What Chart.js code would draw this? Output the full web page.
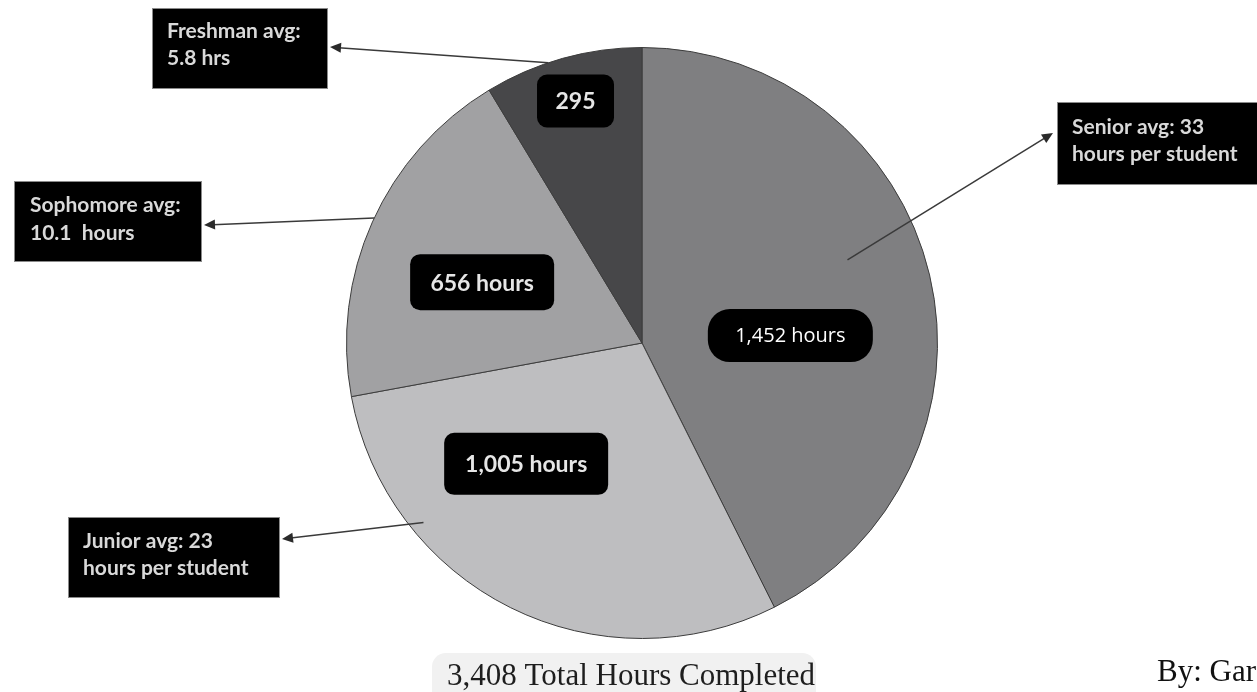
<!DOCTYPE html>
<html>
<head>
<meta charset="utf-8">
<script src="https://cdn.jsdelivr.net/npm/chart.js@4.4.1/dist/chart.umd.min.js"></script>
<style>
  html, body { margin: 0; padding: 0; background: #fff; overflow: hidden; }
  #wrap { width: 1257px; height: 692px; }
</style>
</head>
<body>
<div id="wrap"><canvas id="chart" width="1257" height="692"></canvas></div>
<script>
const categories = ["Senior", "Junior", "Sophomore", "Freshman"]
const hours = [1452, 1005, 656, 295]
const sliceLabels = ["1,452 hours", "1,005 hours", "656 hours", "295"]
const calloutLines = [
  ["Senior avg: 33", "hours per student"],
  ["Junior avg: 23", "hours per student"],
  ["Sophomore avg:", "10.1  hours"],
  ["Freshman avg:", "5.8 hrs"]
]
const totalText = "3,408 Total Hours Completed"
const bylineText = "By: Gar"

const sliceColors = ["#7f7f81", "#bebec0", "#a1a1a3", "#474749"]

// label boxes inside the slices, offsets in pie radius units
const innerLayout = [
  { dx: 0.502, dy: -0.025, w: 165, h: 53, r: 22, font: "400 20px 'Open Sans'" },
  { dx: -0.392, dy: 0.409, w: 164, h: 62, r: 10, font: "bold 23px Lato" },
  { dx: -0.541, dy: -0.206, w: 144, h: 56, r: 10, font: "bold 23px Lato" },
  { dx: -0.225, dy: -0.819, w: 77, h: 53, r: 10, font: "bold 23px Lato" }
]

// callout boxes and arrows (angle in degrees clockwise from top)
const calloutLayout = [
  { box: [1057, 102, 210, 83], tx: 1072, base: [134, 161], ang: 68, rf: 0.75, head: [1053, 133] },
  { box: [68, 517, 212, 81], tx: 83, base: [548, 575], ang: 230.6, rf: 0.957, head: [282, 539] },
  { box: [14, 181, 188, 81], tx: 30, base: [212, 240], ang: 295, rf: 1.0, head: [204, 225] },
  { box: [152, 8, 176, 81], tx: 167, base: [38, 65], ang: 341.5, rf: 1.0, head: [330, 47] }
]

function roundRect(ctx, x, y, w, h, r) {
  ctx.beginPath()
  ctx.moveTo(x + r, y)
  ctx.arcTo(x + w, y, x + w, y + h, r)
  ctx.arcTo(x + w, y + h, x, y + h, r)
  ctx.arcTo(x, y + h, x, y, r)
  ctx.arcTo(x, y, x + w, y, r)
  ctx.closePath()
}

function arrow(ctx, x1, y1, x2, y2) {
  ctx.save()
  ctx.strokeStyle = "#3a3a3a"
  ctx.fillStyle = "#2a2a2a"
  ctx.lineWidth = 1.5
  const a = Math.atan2(y2 - y1, x2 - x1)
  const len = 11
  ctx.beginPath()
  ctx.moveTo(x1, y1)
  ctx.lineTo(x2 - Math.cos(a) * len * 0.8, y2 - Math.sin(a) * len * 0.8)
  ctx.stroke()
  ctx.beginPath()
  ctx.moveTo(x2, y2)
  ctx.lineTo(x2 - Math.cos(a) * len + Math.sin(a) * 5, y2 - Math.sin(a) * len - Math.cos(a) * 5)
  ctx.lineTo(x2 - Math.cos(a) * len - Math.sin(a) * 5, y2 - Math.sin(a) * len + Math.cos(a) * 5)
  ctx.closePath()
  ctx.fill()
  ctx.restore()
}

const annotations = {
  id: "annotations",
  afterDatasetsDraw(chart) {
    const ctx = chart.ctx
    const arc = chart.getDatasetMeta(0).data[0]
    const cx = arc.x, cy = arc.y, R = arc.outerRadius

    // value labels inside slices
    innerLayout.forEach((l, i) => {
      const x = cx + l.dx * R, y = cy + l.dy * R
      ctx.save()
      ctx.fillStyle = "#000"
      roundRect(ctx, x - l.w / 2, y - l.h / 2, l.w, l.h, l.r)
      ctx.fill()
      ctx.fillStyle = i === 0 ? "#ffffff" : "#e6e6e6"
      ctx.font = l.font
      ctx.textAlign = "center"
      ctx.textBaseline = "middle"
      ctx.fillText(sliceLabels[i], x, y + 1)
      ctx.restore()
    })

    // callouts
    calloutLayout.forEach((c, i) => {
      const t = c.ang * Math.PI / 180
      const x1 = cx + Math.sin(t) * R * c.rf
      const y1 = cy - Math.cos(t) * R * c.rf
      arrow(ctx, x1, y1, c.head[0], c.head[1])
      const [bx, by, bw, bh] = c.box
      ctx.save()
      ctx.fillStyle = "#000"
      ctx.fillRect(bx, by, bw, bh)
      ctx.strokeStyle = "#8a8a8a"
      ctx.lineWidth = 1
      ctx.strokeRect(bx + 0.5, by + 0.5, bw - 1, bh - 1)
      ctx.fillStyle = "#d9d9d9"
      ctx.font = "bold 21px Lato"
      ctx.textBaseline = "alphabetic"
      calloutLines[i].forEach((line, k) => ctx.fillText(line, c.tx, c.base[k]))
      ctx.restore()
    })

    // footer
    ctx.save()
    ctx.fillStyle = "#f1f1f1"
    roundRect(ctx, 432, 653, 384, 60, 14)
    ctx.fill()
    ctx.fillStyle = "#1e1e1e"
    ctx.font = "31px 'Liberation Serif'"
    ctx.textBaseline = "alphabetic"
    ctx.fillText(totalText, 447, 685)
    ctx.fillStyle = "#111"
    ctx.fillText(bylineText, 1157, 681)
    ctx.restore()
  }
}

new Chart(document.getElementById("chart"), {
  type: "pie",
  data: {
    labels: categories,
    datasets: [{
      data: hours,
      backgroundColor: sliceColors,
      borderColor: "#3c3c3c",
      borderWidth: 1,
      hoverOffset: 0
    }]
  },
  options: {
    responsive: false,
    animation: false,
    devicePixelRatio: 1,
    layout: { padding: { top: 47, bottom: 53, left: 346, right: 319 } },
    plugins: {
      legend: { display: false },
      tooltip: { enabled: false }
    },
    events: []
  },
  plugins: [annotations]
})
</script>
</body>
</html>
